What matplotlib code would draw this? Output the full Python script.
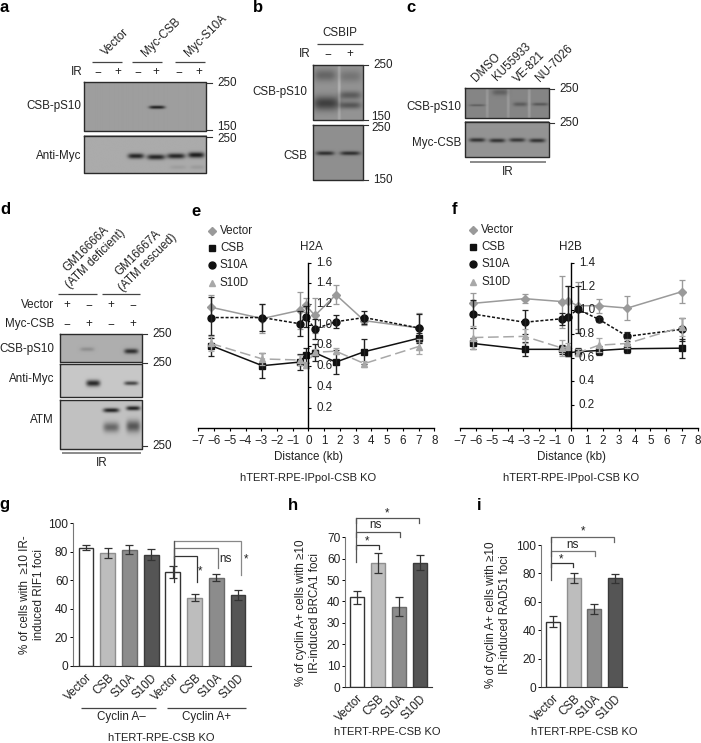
import matplotlib
matplotlib.use('Agg')
import matplotlib.pyplot as plt
import numpy as np

plt.rcParams['font.family'] = ['Liberation Sans', 'DejaVu Sans']
plt.rcParams['font.size'] = 8.4

W, H = 701, 743
TXT = '#222222'

# line plots e, f
distance = [-6.2, -2.93, -0.54, -0.18, 0.41, 1.75, 3.55, 7]
h2a_vector = [1.17, 1.06, 1.14, 1.19, 1.09, 1.29, 1.04, 0.97]
h2a_csb = [0.80, 0.605, 0.64, 0.705, 0.73, 0.64, 0.74, 0.87]
h2a_s10a = [1.07, 1.07, 1.01, 1.08, 0.96, 1.03, 1.07, 0.97]
h2a_s10d = [0.82, 0.67, 0.66, 0.615, 0.735, 0.745, 0.625, 0.79]
h2a_vector_err = [0.12, 0.14, 0.18, 0.07, 0.17, 0.09, 0.04, 0.14]
h2a_csb_err = [0.10, 0.12, 0.08, 0.07, 0.08, 0.12, 0.12, 0.05]
h2a_s10a_err = [0.20, 0.13, 0.12, 0.10, 0.10, 0.06, 0.06, 0.13]
h2a_s10d_err = [0.07, 0.06, 0.05, 0.03, 0.03, 0.03, 0.03, 0.07]

h2b_vector = [1.06, 1.10, 1.075, 1.08, 1.04, 1.04, 1.02, 1.16]
h2b_csb = [0.72, 0.67, 0.67, 0.64, 0.65, 0.66, 0.675, 0.68]
h2b_s10a = [0.97, 0.90, 0.93, 0.945, 1.01, 0.925, 0.78, 0.84]
h2b_s10d = [0.77, 0.78, 0.68, 0.695, 0.64, 0.705, 0.72, 0.86]
h2b_vector_err = [0.09, 0.04, 0.22, 0.13, 0.20, 0.06, 0.10, 0.10]
h2b_csb_err = [0.05, 0.06, 0.04, 0.03, 0.03, 0.04, 0.04, 0.08]
h2b_s10a_err = [0.12, 0.10, 0.05, 0.26, 0.20, 0.02, 0.04, 0.10]
h2b_s10d_err = [0.10, 0.06, 0.07, 0.03, 0.03, 0.06, 0.04, 0.08]

# bar plots g, h, i
bar_labels = ['Vector', 'CSB', 'S10A', 'S10D']
bar_colors = ['white', '#bdbdbd', '#8c8c8c', '#555555']
bar_edges = ['#333333', '#8f8f8f', '#6a6a6a', '#3a3a3a']
rif1 = [83, 79, 81.5, 78, 66, 48, 62, 50]
rif1_err = [2, 3.5, 3, 4, 4, 2.5, 2.5, 3.5]
brca1 = [42, 58, 37.5, 58]
brca1_err = [3, 4.5, 4.5, 3.5]
rad51 = [46, 76.5, 55, 76.5]
rad51_err = [4, 3.5, 3.5, 3]

fig = plt.figure(figsize=(W / 100, H / 100), dpi=100)

# overlay in pixel coordinates for blots and labels
ov = fig.add_axes([0, 0, 1, 1], zorder=5)
ov.set_xlim(0, W)
ov.set_ylim(H, 0)
ov.axis('off')
ov.patch.set_alpha(0)


def ax_px(x0, ytop, x1, ybot):
    return fig.add_axes([x0 / W, 1 - ybot / H, (x1 - x0) / W, (ybot - ytop) / H])


def txt(x, y, s, ha='center', **kw):
    kw.setdefault('color', TXT)
    ov.text(x, y, s, ha=ha, va='center', **kw)


def hline(x0, x1, y, color='#444444', lw=0.9):
    ov.plot([x0, x1], [y, y], color=color, lw=lw, solid_capstyle='butt')


def blot(x0, y0, x1, y1, bg, bands):
    # bands: centre x, centre y, half width, half height, darkness
    xs = np.arange(x0, x1, 0.5)
    ys = np.arange(y0, y1, 0.5)
    xx, yy = np.meshgrid(xs, ys)
    img = np.full(xx.shape, bg, dtype=float)
    for cx, cy, w, h, d in bands:
        img -= d * np.exp(-((xx - cx) / w) ** 4 - ((yy - cy) / h) ** 2)
    ov.imshow(np.clip(img, 0, 1), cmap='gray', vmin=0, vmax=1, extent=(x0, x1, y1, y0),
              aspect='auto', interpolation='bilinear')
    ov.plot([x0, x1, x1, x0, x0], [y0, y0, y1, y1, y0], color='#2a2a2a', lw=1.0)


def ticklab(x, y, s):
    # little tick plus molecular weight
    ov.plot([x, x + 5], [y, y], color='#333333', lw=0.8)
    txt(x + 10, y, s, ha='left')


def panel(x, y, s):
    ov.text(x, y, s, fontsize=12, fontweight='bold', color='black', ha='center', va='center')


panel(4, 8, 'a')
panel(258, 7, 'b')
panel(411, 8, 'c')
panel(5, 210, 'd')
panel(196, 211, 'e')
panel(455, 210, 'f')
panel(4, 504, 'g')
panel(293, 505, 'h')
panel(479, 506, 'i')

# --- a
blot(83.5, 82, 206, 131, 0.62, [(156, 107, 8, 1.6, 0.5)])
blot(83.5, 135.5, 206, 173, 0.67, [(135, 156, 8, 2.6, 0.52), (155, 157, 9, 2.6, 0.52),
                                   (175, 156, 9, 2.6, 0.52), (195, 155, 8, 2.8, 0.56),
                                   (177, 167, 8, 2, 0.05), (196, 167, 7, 2, 0.06)])
hline(92, 122, 61.5)
hline(132, 162, 61.5)
hline(175, 205, 61.5)
txt(82, 72, 'IR', ha='right')
for x, s in zip([98, 118, 138, 156, 179, 199], '−+−+−+'):
    txt(x, 72, s)
txt(116, 42, 'Vector', rotation=45)
txt(161, 37, 'Myc-CSB', rotation=45)
txt(206, 36, 'Myc-S10A', rotation=45)
txt(81, 106, 'CSB-pS10', ha='right')
txt(81, 156, 'Anti-Myc', ha='right')
ticklab(207, 83, '250')
ticklab(207, 130, '')
txt(217, 127, '150', ha='left')
ticklab(207, 137, '')
txt(217, 139, '250', ha='left')

# --- b
blot(313, 65, 363, 120, 0.58, [(325, 75, 11, 6, 0.18), (326, 103, 13, 7, 0.33), (350, 76, 11, 6, 0.12),
                               (350, 95, 11, 4, 0.22), (350, 105, 11, 3.5, 0.24),
                               (339, 92, 1.5, 40, -0.12)])
blot(313, 125, 363, 180, 0.56, [(325, 153, 9, 2, 0.38), (350, 153, 10, 2, 0.38)])
hline(317, 363, 44)
txt(340, 33, 'CSBIP')
txt(311, 54, 'IR', ha='right')
txt(328, 54, '−')
txt(350, 54, '+')
txt(307, 92, 'CSB-pS10', ha='right')
txt(307, 156, 'CSB', ha='right')
ticklab(363, 65, '250')
ticklab(363, 120, '')
txt(371, 117, '150', ha='left')
ticklab(363, 125, '')
txt(371, 128, '250', ha='left')
ticklab(363, 180, '150')

# --- c
blot(465, 88, 549, 118, 0.52, [(477, 105, 8, 1, 0.16), (500, 92, 8, 3, 0.14), (520, 104, 7, 2, 0.16),
                               (540, 104, 8, 1.5, 0.18), (487, 103, 1.5, 30, -0.08), (508, 103, 1.5, 30, -0.08),
                               (529, 103, 1.5, 30, -0.1)])
blot(465, 121.5, 549, 157, 0.58, [(477, 140, 8, 2, 0.38), (497, 140.5, 8, 2, 0.38), (517, 140, 8, 2, 0.36),
                                  (537, 140.5, 8, 2, 0.38)])
hline(470, 546, 161.5, color='#8a8a8a', lw=1.4)
txt(508, 172, 'IR')
txt(461, 107, 'CSB-pS10', ha='right')
txt(461, 143, 'Myc-CSB', ha='right')
ticklab(549, 88.5, '250')
ticklab(549, 122.5, '250')
txt(486, 68, 'DMSO', rotation=45)
txt(512, 62, 'KU55933', rotation=45)
txt(530, 67, 'VE-821', rotation=45)
txt(554, 63, 'NU-7026', rotation=45)

# --- d
blot(60, 334, 142, 362, 0.68, [(87, 349, 7, 2, 0.12), (131, 351, 7, 2.5, 0.5)])
blot(60, 364, 142, 397, 0.78, [(93, 383, 7, 3.2, 0.62), (131, 383, 7, 2, 0.5)])
blot(60, 400, 142, 449, 0.76, [(111, 410, 8, 2.2, 0.62), (133, 408, 7, 2.2, 0.62),
                               (111, 427, 8, 5, 0.35), (133, 426, 7, 6, 0.42)])
hline(62, 141, 453, color='#8a8a8a', lw=1.4)
txt(102, 463, 'IR')
hline(58, 97, 294)
hline(102, 140, 294)
txt(54, 305, 'Vector', ha='right')
txt(54, 324, 'Myc-CSB', ha='right')
for x, a, b in zip([67, 89, 111, 133], '+−+−', '−+−+'):
    txt(x, 305, a)
    txt(x, 324, b)
txt(54, 349, 'CSB-pS10', ha='right')
txt(54, 379, 'Anti-Myc', ha='right')
txt(54, 420, 'ATM', ha='right')
ticklab(142, 334, '250')
ticklab(142, 363, '250')
ticklab(142, 446, '250')
txt(91, 254, 'GM16666A\n(ATM deficient)', rotation=45, linespacing=1.1, ma='center', rotation_mode='anchor')
txt(143, 258, 'GM16667A\n(ATM rescued)', rotation=45, linespacing=1.1, ma='center', rotation_mode='anchor')


# --- e, f
def line_panel(box, ymax, yticks, series, title, tx, lx, leg_x, ty0):
    ax = ax_px(*box)
    ax.patch.set_alpha(0)
    styles = [('#9a9a9a', '-', 'D', 4.0), ('#111111', '-', 's', 4.5),
              ('#111111', (0, (2, 1.2)), 'o', 5.0), ('#a8a8a8', (0, (7, 3)), '^', 5.0)]
    names = ['Vector', 'CSB', 'S10A', 'S10D']
    for (vals, err), (col, ls, mk, ms) in zip(series, styles):
        ax.plot(distance, vals, color=col, ls=ls, lw=1.1, marker=mk, ms=ms, clip_on=False)
        ax.errorbar(distance, vals, yerr=err, fmt='none', ecolor='#222222' if col == '#111111' else col,
                    elinewidth=1.0, capsize=2, capthick=0.9, clip_on=False)
    ax.set_xlim(-7, 8)
    ax.set_ylim(0, ymax)
    for s in ['top', 'right']:
        ax.spines[s].set_visible(False)
    ax.spines['left'].set_position(('data', 0))
    ax.spines['left'].set_linewidth(1.0)
    ax.spines['bottom'].set_linewidth(1.0)
    ax.set_xticks(range(-7, 9))
    ax.set_yticks(yticks)
    ax.set_yticklabels([])
    ax.tick_params(axis='y', direction='in', length=2, width=0.8)
    ax.tick_params(axis='x', length=2, width=0.8, pad=3, labelsize=8.4, labelcolor=TXT)
    for v in yticks:
        ax.annotate('%.1f' % v, (0, v), xytext=(5.5, 0), textcoords='offset points', va='center',
                    color=TXT, annotation_clip=False)
    for name, (col, ls, mk, ms), y in zip(names, styles, ty0):
        ov.plot([leg_x], [y], marker=mk, color=col, ms=ms)
        txt(leg_x + 8, y, name, ha='left')
    txt(tx, 246.5, title)
    txt(lx, 457, 'Distance (kb)')
    txt(lx, 478, 'hTERT-RPE-IPpoI-CSB KO', fontsize=8)


line_panel((198.3, 262.7, 434.3, 428.3), 1.6, [0.2, 0.4, 0.6, 0.8, 1.0, 1.2, 1.4, 1.6],
           [(h2a_vector, h2a_vector_err), (h2a_csb, h2a_csb_err), (h2a_s10a, h2a_s10a_err), (h2a_s10d, h2a_s10d_err)],
           'H2A', 311, 308, 212, [231, 248, 265, 283])
line_panel((460, 263.3, 698, 428.3), 1.4, [0.2, 0.4, 0.6, 0.8, 1.0, 1.2, 1.4],
           [(h2b_vector, h2b_vector_err), (h2b_csb, h2b_csb_err), (h2b_s10a, h2b_s10a_err), (h2b_s10d, h2b_s10d_err)],
           'H2B', 570, 571, 473, [230, 247, 264, 282])


# --- g, h, i
def bar_panel(box, ymax, yticks, vals, errs, labels, colors, edges, ylabel, ylab_x, ylab_y):
    ax = ax_px(*box)
    ax.patch.set_alpha(0)
    xp = np.arange(len(vals))
    ax.bar(xp, vals, width=0.68, color=colors, edgecolor=edges,
           linewidth=1.0, yerr=errs, ecolor='#333333',
           error_kw=dict(elinewidth=0.9, capsize=3.2, capthick=0.9))
    ax.set_xlim(-0.6, len(vals) - 0.4)
    ax.set_ylim(0, ymax)
    for s in ['top', 'right']:
        ax.spines[s].set_visible(False)
    ax.spines['left'].set_color('#777777')
    ax.spines['bottom'].set_color('#333333')
    ax.set_yticks(yticks)
    ax.set_xticks(xp)
    ax.set_xticklabels(labels, rotation=45, ha='right', rotation_mode='anchor', color=TXT)
    ax.tick_params(axis='x', length=0, pad=4)
    ax.tick_params(axis='y', length=2, width=0.7, pad=1.5, labelcolor=TXT, labelsize=8.6)
    txt(ylab_x, ylab_y, ylabel, rotation=90, fontsize=8.4, linespacing=1.15, ma='center')
    return ax


def bracket(x0, x1, ytop, ybot, color):
    ov.plot([x0, x0, x1, x1], [ybot, ytop, ytop, ybot], color=color, lw=0.9, solid_joinstyle='miter')


bar_panel((73, 523.3, 251, 666), 100, range(0, 101, 20), rif1, rif1_err, bar_labels * 2, bar_colors * 2, bar_edges * 2,
          '% of cells with  ≥10 IR-\ninduced RIF1 foci', 32, 595)
bracket(174, 241, 541, 575, '#888888')
bracket(174, 218, 548, 568, '#777777')
bracket(174, 196.5, 556, 582, '#333333')
ov.plot([174, 174], [541, 558], color='#555555', lw=0.9)
txt(200, 571, '*')
txt(225, 559, 'ns')
txt(246, 559, '*')
hline(81, 156, 708)
hline(167, 246, 708)
txt(121, 717, 'Cyclin A–')
txt(207, 717, 'Cyclin A+')
txt(161, 738, 'hTERT-RPE-CSB KO', fontsize=8)

bar_panel((345, 537.3, 432, 687), 70, range(0, 71, 10), brca1, brca1_err, bar_labels, bar_colors, bar_edges,
          '% of cyclin A+ cells with ≥10\nIR-induced BRCA1 foci', 308, 613)
bracket(355.7, 419, 518, 523, '#555555')
bracket(355.7, 400, 532, 537, '#555555')
bracket(355.7, 379, 545, 549, '#333333')
ov.plot([355.7, 355.7], [518, 562], color='#555555', lw=0.9)
txt(387, 513, '*')
txt(375, 525, 'ns')
txt(367, 541, '*')
txt(387, 732, 'hTERT-RPE-CSB KO', fontsize=8)

bar_panel((541, 545, 627, 687), 100, range(0, 101, 20), rad51, rad51_err, bar_labels, bar_colors, bar_edges,
          '% of cyclin A+ cells with ≥10\nIR-induced RAD51 foci', 498, 615)
bracket(550.7, 614, 537, 542, '#666666')
bracket(550.7, 595, 551, 556, '#777777')
bracket(550.7, 573, 563, 567, '#333333')
ov.plot([550.7, 550.7], [537, 580], color='#555555', lw=0.9)
txt(583, 531, '*')
txt(572, 545, 'ns')
txt(561, 559, '*')
txt(584, 732, 'hTERT-RPE-CSB KO', fontsize=8)

ov.set_xlim(0, W)
ov.set_ylim(H, 0)
fig.savefig('out.png', dpi=100)
